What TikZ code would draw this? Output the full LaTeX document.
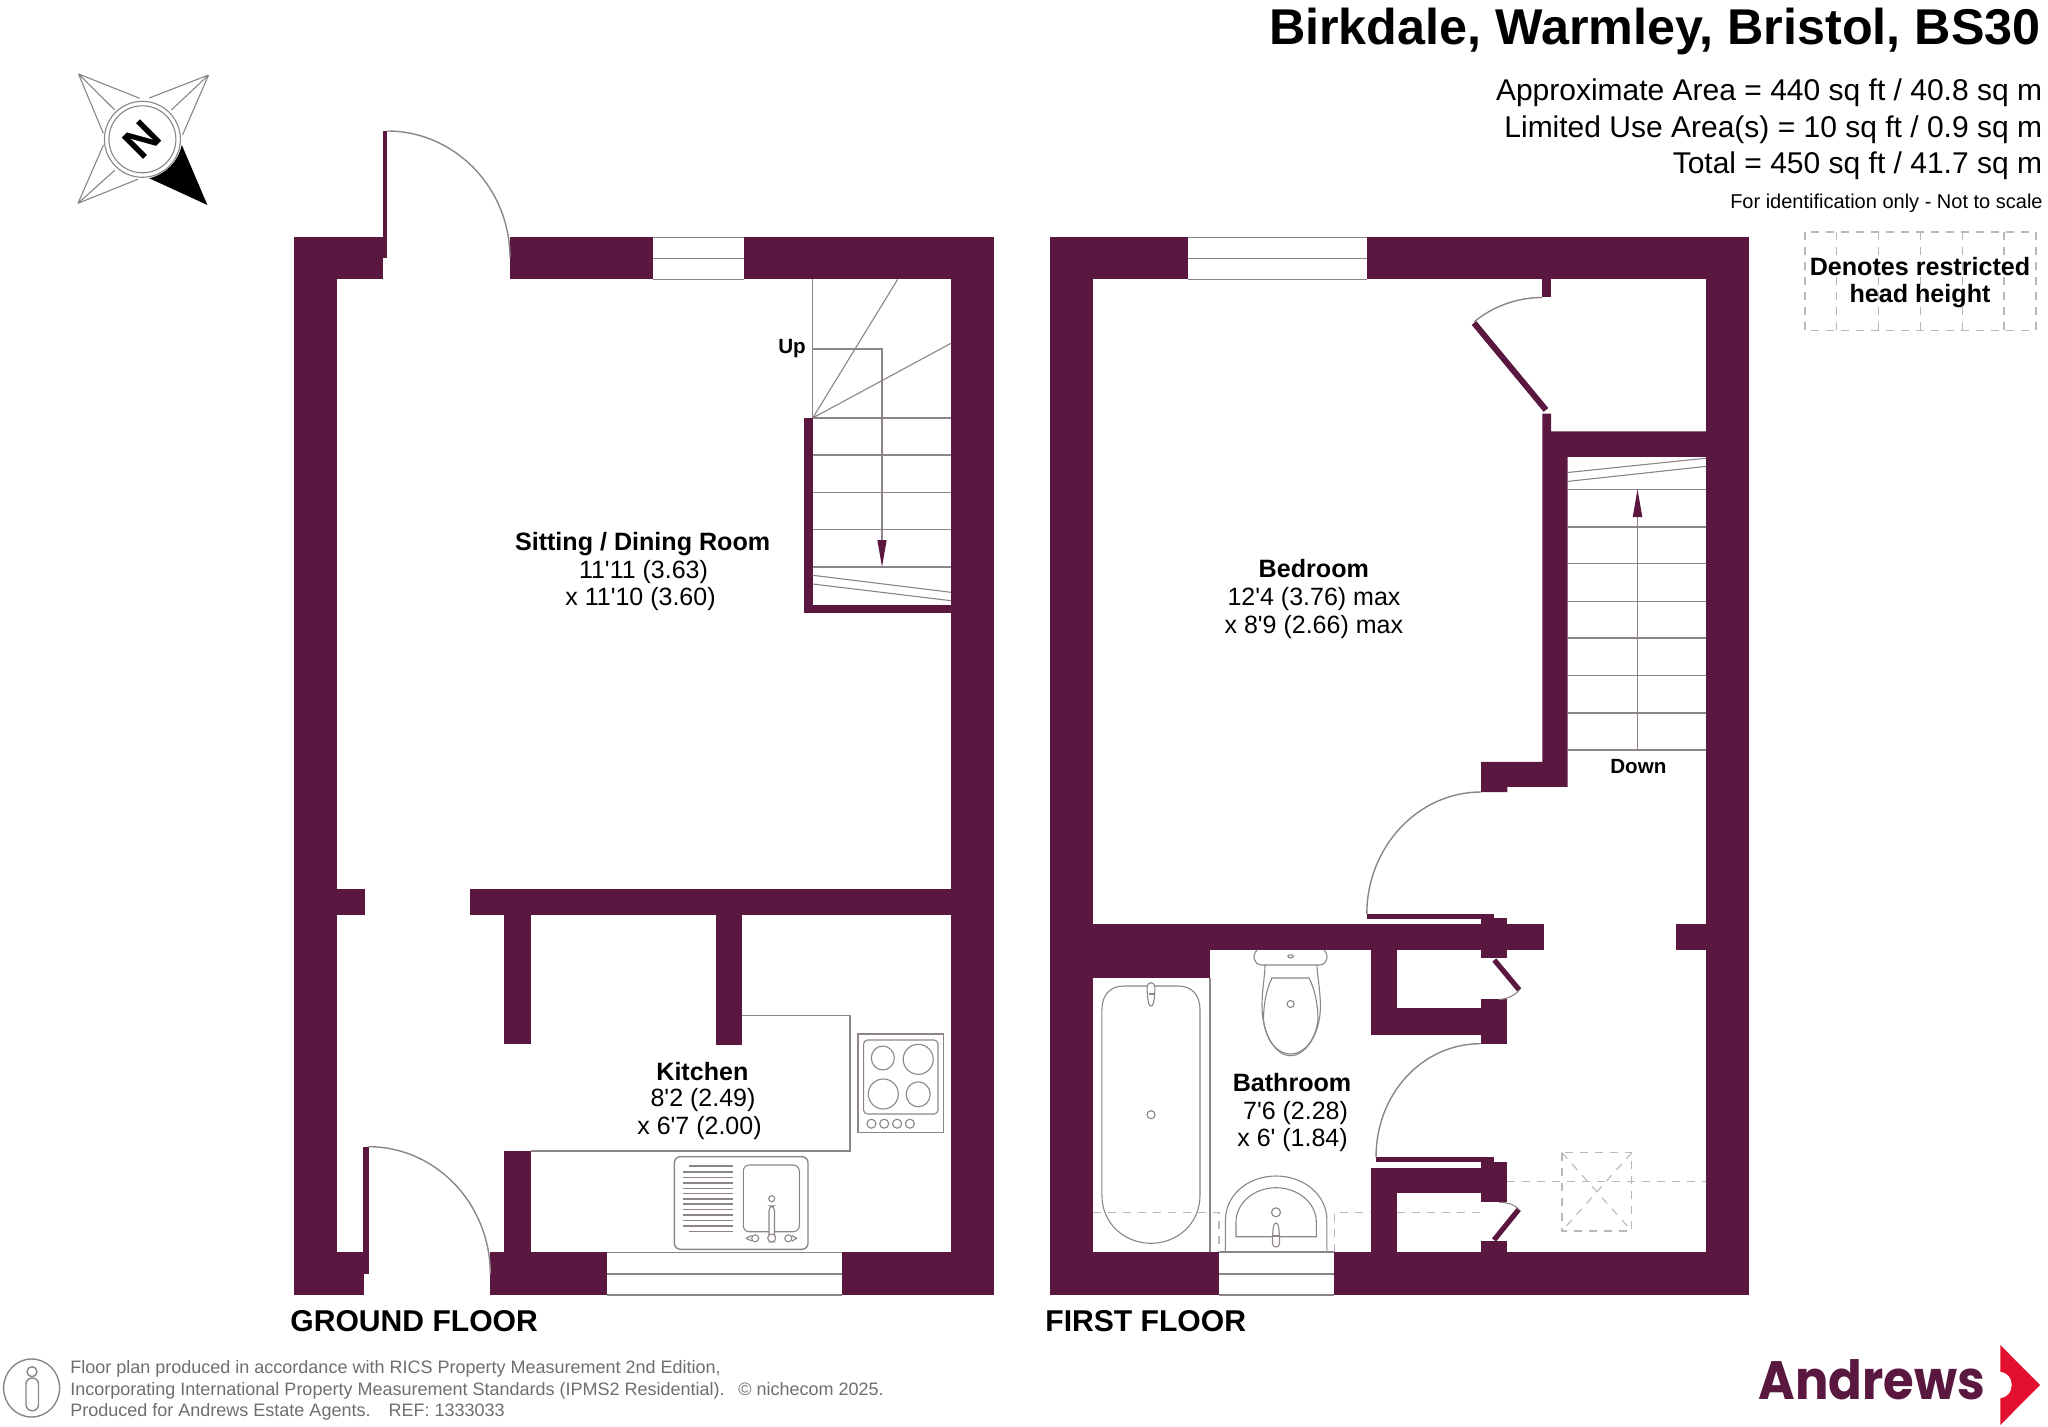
\documentclass[tikz,border=0pt]{standalone}
\usepackage{fontspec}
\setmainfont{Liberation Sans}
\newfontfamily\logofont[FakeStretch=0.92]{Poppins}
\definecolor{wallc}{HTML}{5A173F}
\definecolor{linec}{HTML}{8C8488}
\definecolor{dashc}{HTML}{B8B8B8}
\definecolor{footc}{HTML}{6E6E6E}
\definecolor{logored}{HTML}{E2102E}
\tikzset{
  wall/.style={fill=wallc,draw=none},
  thin line/.style={draw=linec,line width=0.7pt},
  fine line/.style={draw=linec,line width=0.55pt},
  leaf/.style={draw=wallc,line width=3pt},
  dash line/.style={draw=dashc,line width=0.7pt,dash pattern=on 4pt off 3.5pt},
  lbl/.style={inner sep=0,anchor=base,align=center},
  roomname/.style={lbl,font=\fontsize{12.55}{12.55}\selectfont\bfseries},
  roomdim/.style={lbl,font=\fontsize{12.5}{12.5}\selectfont},
  infotext/.style={inner sep=0,anchor=base east,font=\fontsize{15}{15}\selectfont},
  foottext/.style={inner sep=0,anchor=base west,text=footc,font=\fontsize{9}{9}\selectfont},
  floorname/.style={inner sep=0,anchor=base west,font=\fontsize{15.05}{15.05}\selectfont\bfseries},
}
\newcommand{\qq}{\textquotesingle}
\begin{document}
\begin{tikzpicture}[x=0.5pt,y=-0.5pt]
\useasboundingbox (0,0) rectangle (2048,1427);

% ---- compass
\draw[fine line,line join=round] (78.5,74) -- (139.7,98.3) (78.5,74) -- (103.3,133.3) (78.5,74) -- (114.8,110);
\draw[fine line] (208.6,75) -- (149.3,98) (208.6,75) -- (182.5,135) (208.6,75) -- (171.4,110);
\draw[fine line] (78,203.3) -- (103.5,145) (78,203.3) -- (137.8,179.3) (78,203.3) -- (115,170);
\fill[black] (181.8,145) -- (207.4,205) -- (149.3,178.3) .. controls (166,174) and (178,162) .. cycle;
\fill[white] (142.4,139.3) circle[radius=38];
\draw[fine line] (142.4,139.3) circle[radius=38] (142.4,139.3) circle[radius=33.5];
\node[inner sep=0,rotate=45,font=\fontsize{22}{22}\selectfont\bfseries] (northmark) at (142.4,139.3) {N};

% ---- ground floor walls
\fill[wall] (294,237.5) rectangle (337,1295);
\fill[wall] (294,237.5) rectangle (383,279.3);
\fill[wall] (383,131) rectangle (387.3,258.3);
\fill[wall] (510,237.5) rectangle (653,279.3);
\fill[wall] (744,237.5) rectangle (994,279.3);
\fill[wall] (951,237.5) rectangle (994,1295);
\fill[wall] (294,1252.3) rectangle (364,1295);
\fill[wall] (363,1146.7) rectangle (368.6,1274);
\fill[wall] (490.3,1252.3) rectangle (607,1295);
\fill[wall] (842.4,1252.3) rectangle (994,1295);
\fill[wall] (804.3,418) rectangle (812.7,613.3);
\fill[wall] (804.3,604.7) rectangle (951,613.3);
\fill[wall] (337,888.7) rectangle (364.5,914.7);
\fill[wall] (470,888.7) rectangle (951,914.7);
\fill[wall] (504,914.7) rectangle (531,1044.3);
\fill[wall] (715.7,914.7) rectangle (742,1045);
\fill[wall] (504,1151) rectangle (531,1252.3);

% ground doors and windows
\draw[thin line] (387,131) .. controls (455,131) and (510,188) .. (510,258);
\draw[thin line] (368.6,1146.7) .. controls (436,1146.7) and (490.3,1204) .. (490.3,1274);
\draw[thin line] (653,237.5) -- (744,237.5) (653,258.4) -- (744,258.4) (653,279.3) -- (744,279.3);
\draw[thin line] (607,1252.3) -- (842.4,1252.3) (607,1274) -- (842.4,1274) (607,1295) -- (842.4,1295);

% ground stairs
\draw[thin line] (812.7,279.3) -- (812.7,418);
\draw[fine line] (812.7,418) -- (897.7,279.3) (812.7,418) -- (951,343.3);
\foreach \ty in {418,455,492.3,529.3,567} \draw[fine line] (812.7,\ty) -- (951,\ty);
\draw[fine line] (812.7,575.3) -- (951,592.3) (812.7,584) -- (951,600.7);
\draw[thin line] (812.7,349) -- (882,349) -- (882,545);
\fill[wallc] (877.3,540) -- (886.7,540) -- (882,567) -- cycle;
\node[inner sep=0,anchor=base,font=\fontsize{10.3}{10.3}\selectfont\bfseries] (uplabel) at (792,354) {Up};

% kitchen worktop
\draw[thin line] (742,1015.7) -- (849.8,1015.7) -- (849.8,1151) -- (531,1151);
% hob
\draw[thin line] (858,1034) rectangle (943.4,1132.7);
\draw[fine line,rounded corners=2pt] (863.6,1040) rectangle (938,1114);
\draw[fine line] (882.8,1058) ellipse[x radius=11.5,y radius=12];
\draw[fine line] (918.2,1059.3) ellipse[x radius=15,y radius=15];
\draw[fine line] (883.3,1094) ellipse[x radius=15,y radius=15];
\draw[fine line] (918.2,1094.3) ellipse[x radius=12,y radius=12.5];
\foreach \kx in {871.4,884.2,897.1,909.9} \draw[fine line] (\kx,1123.7) circle[radius=4.5];
% sink
\draw[thin line,rounded corners=3pt] (674.4,1156.7) rectangle (808,1249.3);
\foreach \sy in {1172,1177.3,1183,1188.3,1193.7,1199,1204,1209.7,1215,1220.7,1226} \draw[fine line] (682.7,\sy) -- (733,\sy);
\draw[fine line] (688.6,1166) -- (733,1166) (688.6,1231.7) -- (733,1231.7);
\draw[fine line,rounded corners=3pt] (743.3,1165) rectangle (799.3,1231.7);
\draw[fine line,fill=white] (771.7,1198.7) circle[radius=3];
\draw[fine line,fill=white,rounded corners=2.2pt] (769,1206) rectangle (774.5,1241.7);
\draw[fine line,fill=white] (771.7,1238) circle[radius=4];
\draw[fine line] (755.2,1238.3) circle[radius=3.5] (788.3,1238.3) circle[radius=3.5];
\draw[fine line] (746,1238.3) -- (751.7,1235.5) (746,1238.3) -- (751.7,1241) (797,1238.3) -- (791.8,1235.5) (797,1238.3) -- (791.8,1241);

% ---- first floor walls
\fill[wall] (1050,237.5) rectangle (1092.7,1295);
\fill[wall] (1050,237.5) rectangle (1188,279.3);
\fill[wall] (1366.7,237.5) rectangle (1749,279.3);
\fill[wall] (1706,237.5) rectangle (1749,1295);
\fill[wall] (1050,1252) rectangle (1219,1295);
\fill[wall] (1334.2,1252) rectangle (1749,1295);
\fill[wall] (1542.3,279) rectangle (1551,297.5);
\fill[wall] (1542.3,413.6) -- (1551,413.6) -- (1551,431.4) -- (1706,431.4) -- (1706,457) -- (1567.7,457) -- (1567.7,786.8) -- (1507.3,786.8) -- (1507.3,792) -- (1481,792) -- (1481,761.8) -- (1542.3,761.8) -- cycle;
\fill[wall] (1092.7,924) rectangle (1543.6,950);
\fill[wall] (1675.8,924) rectangle (1705.6,950);
\fill[wall] (1092.7,950) rectangle (1209.8,978.3);
\fill[wall] (1371,950) rectangle (1396.6,1034.7);
\fill[wall] (1371,1008.3) rectangle (1480.7,1034.7);
\fill[wall] (1480.7,918.3) rectangle (1507.3,958.3);
\fill[wall] (1366.8,914) rectangle (1494.4,919);
\fill[wall] (1480.7,914) rectangle (1494.4,924);
\fill[wall] (1480.7,999.3) rectangle (1507.3,1043.7);
\fill[wall] (1376,1157.3) rectangle (1494.4,1162.3);
\fill[wall] (1371,1167.7) rectangle (1480.7,1193.3);
\fill[wall] (1480.7,1157.3) rectangle (1494.4,1165);
\fill[wall] (1480.7,1161.7) rectangle (1507.3,1202.3);
\fill[wall] (1371,1167.7) rectangle (1396.6,1252);
\fill[wall] (1480.7,1240.7) rectangle (1507.3,1252);

% first doors and windows
\draw[leaf] (1474,323) -- (1546,410);
\draw[thin line] (1542.3,297.5) .. controls (1518,297.5) and (1493,306) .. (1474,322);
\draw[thin line] (1481,792) .. controls (1418,792) and (1366.8,847) .. (1366.8,914);
\draw[thin line] (1480.7,1043.7) .. controls (1422,1043.7) and (1376,1094) .. (1376,1157.3);
\draw[leaf,line width=2.6pt] (1494.3,960) -- (1519.3,990);
\draw[fine line] (1499,999.3) .. controls (1507,999.3) and (1514,996) .. (1519.3,990);
\draw[leaf,line width=2.6pt] (1494,1240) -- (1518.8,1209.3);
\draw[fine line] (1499,1202.3) .. controls (1507,1202.3) and (1514,1204) .. (1518.8,1209.3);
\draw[thin line] (1188,237.5) -- (1366.7,237.5) (1188,258.4) -- (1366.7,258.4) (1188,279.3) -- (1366.7,279.3);
\draw[thin line] (1219,1252) -- (1334.2,1252) (1219,1274) -- (1334.2,1274) (1219,1295) -- (1334.2,1295);

% first stairs
\foreach \ty in {489.3,526.8,563.6,601.4,637.9,675.7,712.9,750} \draw[thin line] (1567.7,\ty) -- (1706,\ty);
\draw[fine line] (1567.7,472.5) -- (1706,458.2) (1567.7,481.4) -- (1706,466.4);
\draw[fine line] (1637.3,750) -- (1637.3,510);
\fill[wallc] (1632.7,517) -- (1642.3,517) -- (1637.5,489.3) -- cycle;
\node[inner sep=0,anchor=base,font=\fontsize{10.3}{10.3}\selectfont\bfseries] (downlabel) at (1638.3,773.5) {Down};

% bath
\draw[thin line] (1209.8,978.3) -- (1209.8,1252);
\draw[fine line] (1124,986) -- (1178,986) .. controls (1192,986) and (1200,995) .. (1200,1010) -- (1200,1195) .. controls (1200,1225) and (1176,1243.3) .. (1151,1243.3) .. controls (1126,1243.3) and (1101.9,1225) .. (1101.9,1195) -- (1101.9,1010) .. controls (1101.9,995) and (1110,986) .. (1124,986) -- cycle;
\draw[fine line,fill=white] (1151,982.7) .. controls (1146,982.7) and (1147,990) .. (1147.5,995) .. controls (1148,1003) and (1149,1006) .. (1151,1006) .. controls (1153,1006) and (1154,1003) .. (1154.5,995) .. controls (1155,990) and (1156,982.7) .. (1151,982.7) -- cycle;
\draw[fine line] (1148.5,994) -- (1153.5,994);
\draw[fine line] (1151,1114.7) circle[radius=4];

% toilet
\draw[fine line] (1257,950) .. controls (1252,955) and (1253,965) .. (1262,965) -- (1319,965) .. controls (1328,965) and (1329,955) .. (1324,950);
\draw[fine line] (1265,965) .. controls (1265,975) and (1262,990) .. (1262,1006) .. controls (1262,1035) and (1276,1055.7) .. (1290.6,1055.7) .. controls (1305,1055.7) and (1320.4,1035) .. (1320.4,1006) .. controls (1320.4,990) and (1317,975) .. (1317,965);
\draw[fine line] (1272,978) -- (1309,978) .. controls (1315,990) and (1318,1005) .. (1318,1020) .. controls (1315,1042) and (1303,1054) .. (1290.6,1054) .. controls (1278,1054) and (1266,1042) .. (1263.5,1020) .. controls (1263.5,1005) and (1266,990) .. (1272,978) -- cycle;
\draw[fine line] (1290.6,1004) circle[radius=3.5];
\draw[fine line] (1290.6,956.3) ellipse[x radius=2.8,y radius=1.5];

% basin
\draw[fine line] (1225.4,1252) -- (1225.4,1220) .. controls (1225.4,1195) and (1248,1176) .. (1276,1176) .. controls (1304,1176) and (1326.9,1195) .. (1326.9,1220) -- (1326.9,1252);
\draw[fine line] (1236,1236.7) -- (1236,1222) .. controls (1236,1203) and (1254,1187.7) .. (1276,1187.7) .. controls (1298,1187.7) and (1316.3,1203) .. (1316.3,1222) -- (1316.3,1236.7) -- cycle;
\draw[fine line] (1276,1212.3) circle[radius=4.5];
\draw[fine line,fill=white] (1276,1223) .. controls (1273,1223) and (1273,1230) .. (1272.5,1238) .. controls (1272,1244) and (1273,1247) .. (1276,1247) .. controls (1279,1247) and (1280,1244) .. (1279.5,1238) .. controls (1279,1230) and (1279,1223) .. (1276,1223) -- cycle;
\draw[fine line] (1272.7,1236) -- (1279.3,1236);

% dashed restricted height lines
\draw[dash line] (1092.7,1212.7) -- (1219,1212.7) -- (1219,1252);
\draw[dash line] (1334.2,1252) -- (1334.2,1212.7) -- (1371,1212.7);
\draw[dash line] (1396.6,1212.7) -- (1481,1212.7);
\draw[dash line] (1507.3,1181.7) -- (1705.6,1181.7);
\draw[dash line,line width=0.55pt] (1562,1152.7) rectangle (1631.7,1231);
\draw[dash line,line width=0.55pt] (1562,1152.7) -- (1631.7,1231) (1631.7,1152.7) -- (1562,1231);

% ---- room labels
\node[roomname] (sitting) at (642.6,550.5) {Sitting / Dining Room};
\node[roomdim] (sittinga) at (643.5,578) {11\qq11 (3.63)};
\node[roomdim] (sittingb) at (640.5,605) {x 11\qq10 (3.60)};
\node[roomname] (kitchen) at (702.4,1080) {Kitchen};
\node[roomdim] (kitchena) at (703,1106.7) {8\qq2 (2.49)};
\node[roomdim] (kitchenb) at (699.5,1134) {x 6\qq7 (2.00)};
\node[roomname] (bedroom) at (1313.8,577.7) {Bedroom};
\node[roomdim] (bedrooma) at (1314,605) {12\qq4 (3.76) max};
\node[roomdim] (bedroomb) at (1313.8,633) {x 8\qq9 (2.66) max};
\node[roomname] (bathroom) at (1292,1091.7) {Bathroom};
\node[roomdim] (bathrooma) at (1295.5,1119) {7\qq6 (2.28)};
\node[roomdim] (bathroomb) at (1292.5,1146.7) {x 6\qq{} (1.84)};
\node[floorname] (groundname) at (290,1331.7) {GROUND FLOOR};
\node[floorname] (firstname) at (1045,1331) {FIRST FLOOR};

% ---- heading
\node[inner sep=0,anchor=base east,font=\fontsize{25.15}{25.15}\selectfont\bfseries] (title) at (2041,45) {Birkdale, Warmley, Bristol, BS30};
\node[infotext] (areaa) at (2042.5,101) {Approximate Area = 440 sq ft / 40.8 sq m};
\node[infotext] (areab) at (2042.5,137.7) {Limited Use Area(s) = 10 sq ft / 0.9 sq m};
\node[infotext] (areac) at (2042.5,173.7) {Total = 450 sq ft / 41.7 sq m};
\node[inner sep=0,anchor=base east,font=\fontsize{10}{10}\selectfont] (scale) at (2043,209) {For identification only - Not to scale};

% restricted key
\draw[dash line,line width=0.55pt] (1805,232) rectangle (2036,330.7);
\foreach \dx in {1836.7,1878.3,1920.7,1962.3,2004} \draw[dash line,line width=0.55pt] (\dx,232) -- (\dx,330.7);
\node[lbl,font=\fontsize{12.55}{12.55}\selectfont\bfseries] (keya) at (1920,276) {Denotes restricted};
\node[lbl,font=\fontsize{12.55}{12.55}\selectfont\bfseries] (keyb) at (1920,302.7) {head height};

% ---- footer
\draw[thin line] (31.6,1388) ellipse[x radius=28,y radius=29];
\draw[thin line] (32,1371.7) circle[radius=5];
\draw[thin line,rounded corners=3pt] (26,1378) rectangle (38.5,1410.7);
\node[foottext] (foota) at (70,1373) {Floor plan produced in accordance with RICS Property Measurement 2nd Edition,};
\node[foottext] (footb) at (70,1395) {Incorporating International Property Measurement Standards (IPMS2 Residential).};
\node[foottext] (footc) at (738,1395) {© nichecom 2025.};
\node[foottext] (footd) at (70,1416.7) {Produced for Andrews Estate Agents.\quad REF: 1333033};

% ---- logo
\node[inner sep=0,anchor=base west,text=wallc,font=\logofont\fontsize{27}{27}\selectfont\bfseries] (logotext) at (1758,1399) {Andrews};
\fill[logored] (2000.3,1345) -- (2040,1385) -- (2000.3,1425) -- (2000.3,1398.3) .. controls (2008,1397) and (2011.7,1392) .. (2011.7,1385) .. controls (2011.7,1378) and (2008,1373) .. (2000.3,1371.7) -- cycle;
\end{tikzpicture}
\end{document}
